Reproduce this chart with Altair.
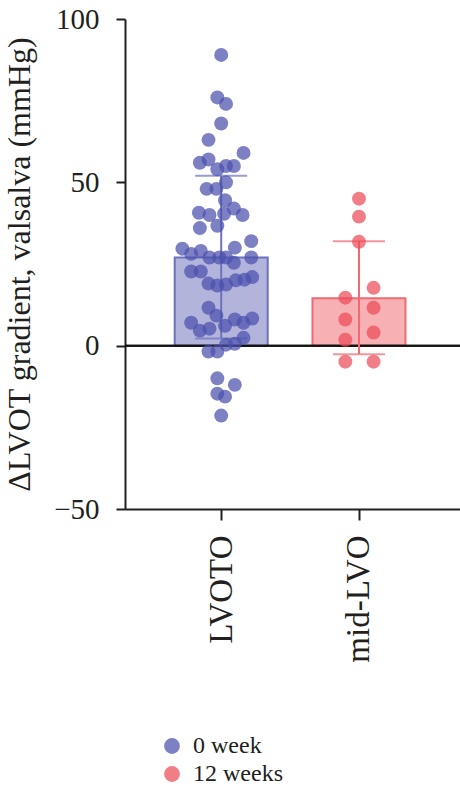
import altair as alt
import pandas as pd

# ---- data ----
categories = ["LVOTO", "mid-LVO"]
legend_labels = ["0 week", "12 weeks"]

lvoto_values = [89, 76, 74, 68, 63, 59, 56, 57, 54, 55, 55, 48, 48, 50, 44.5,
                40.7, 40, 40.4, 42, 40, 36, 36.7, 29.7, 28.1, 29, 27, 27, 27,
                30, 25.4, 32, 27, 22.7, 22.7, 19, 18.4, 18.7, 20, 20.2, 21,
                11.6, 9.2, 7, 4.6, 5.2, 6.1, 8, 7, 8.3, 2.4, 0.6, 0.3, -1.8,
                -1.8, -10, -12, -14.7, -15.6, -21.4]
lvoto_spread = [0, -0.028, 0.035, 0, -0.092, 0.162, -0.155, -0.092, -0.028,
                0.035, 0.092, -0.106, -0.035, 0.035, 0.028, -0.162, -0.085,
                0.021, 0.092, 0.155, -0.155, -0.028, -0.282, -0.218, -0.148,
                -0.085, -0.014, 0.035, 0.099, 0.092, 0.218, 0.218, -0.218,
                -0.148, -0.092, -0.028, 0.035, 0.106, 0.169, 0.225, -0.092,
                -0.035, -0.218, -0.155, -0.085, 0.028, 0.099, 0.162, 0.225,
                0.162, 0.099, 0.035, -0.092, -0.028, -0.028, 0.099, -0.028,
                0.028, 0]

mid_values = [45, 39.5, 31.8, 17.7, 14.7, 11.6, 8, 4, 1.8, -4.9, -4.9]
mid_spread = [0, 0, 0, 0.106, -0.099, 0.106, -0.099, 0.106, -0.099, -0.099, 0.106]

bar_means = [27, 14.5]
err_upper = [52, 32]
err_lower = [2.2, -2.6]

# ---- tables ----
cat_pos = {c: i + 1 for i, c in enumerate(categories)}

points = pd.DataFrame({
    "group": [legend_labels[0]] * len(lvoto_values) + [legend_labels[1]] * len(mid_values),
    "value": lvoto_values + mid_values,
    "xpos": [cat_pos[categories[0]] + s for s in lvoto_spread]
            + [cat_pos[categories[1]] + s for s in mid_spread],
})

summary = pd.DataFrame({
    "category": categories,
    "xpos": [cat_pos[c] for c in categories],
    "mean": bar_means,
    "upper": err_upper,
    "lower": err_lower,
    "zero": [0, 0],
})

FONT = "Liberation Serif"
TXT = "#231f20"
blue_fill, blue_line, blue_dot = "#b3b4dc", "#6d71be", "#4b50ad"
red_fill, red_line, red_dot = "#f7b0b4", "#f06a74", "#ec4c57"

xscale = alt.Scale(domain=[0.338, 2.697], nice=False, zero=False)
yscale = alt.Scale(domain=[-50, 100], nice=False)

label_expr = "datum.value == 1 ? '%s' : (datum.value == 2 ? '%s' : '')" % (categories[0], categories[1])

xaxis = alt.Axis(values=[1, 2], labelExpr=label_expr, title=None, labelAngle=-90,
                 labelFontSize=33, labelFont=FONT, labelColor=TXT, tickSize=11,
                 tickWidth=2, tickColor=TXT, domainColor=TXT, domainWidth=2,
                 labelPadding=15, grid=False)
yaxis = alt.Axis(values=[-50, 0, 50, 100], title="ΔLVOT gradient, valsalva (mmHg)",
                 titleFontSize=32, titleFont=FONT, titleFontWeight="normal", titleColor=TXT,
                 labelFontSize=29, labelFont=FONT, labelColor=TXT, tickSize=9,
                 tickWidth=2, tickColor=TXT, domainColor=TXT, domainWidth=2,
                 labelPadding=17, titlePadding=17, grid=False)

fill_scale = alt.Scale(domain=categories, range=[blue_fill, red_fill])
line_scale = alt.Scale(domain=categories, range=[blue_line, red_line])

bars = alt.Chart(summary).mark_bar(size=93, strokeWidth=2).encode(
    x=alt.X("xpos:Q", scale=xscale, axis=xaxis),
    y=alt.Y("mean:Q", scale=yscale, axis=yaxis),
    y2="zero:Q",
    fill=alt.Fill("category:N", scale=fill_scale, legend=None),
    stroke=alt.Stroke("category:N", scale=line_scale, legend=None),
)

zero_line = alt.Chart(summary).mark_rule(color="#111111", strokeWidth=2).encode(
    y=alt.Y("zero:Q", scale=yscale, axis=yaxis),
    x=alt.value(0),
    x2=alt.value(335),
)

err_rule = alt.Chart(summary).mark_rule(strokeWidth=2).encode(
    x=alt.X("xpos:Q", scale=xscale, axis=xaxis),
    y=alt.Y("lower:Q", scale=yscale, axis=yaxis),
    y2="upper:Q",
    stroke=alt.Stroke("category:N", scale=line_scale, legend=None),
)
cap_up = alt.Chart(summary).mark_tick(orient="horizontal", size=52, thickness=2).encode(
    x=alt.X("xpos:Q", scale=xscale, axis=xaxis),
    y=alt.Y("upper:Q", scale=yscale, axis=yaxis),
    color=alt.Color("category:N", scale=line_scale, legend=None),
)
cap_lo = alt.Chart(summary).mark_tick(orient="horizontal", size=52, thickness=2).encode(
    x=alt.X("xpos:Q", scale=xscale, axis=xaxis),
    y=alt.Y("lower:Q", scale=yscale, axis=yaxis),
    color=alt.Color("category:N", scale=line_scale, legend=None),
)

dots = alt.Chart(points).mark_circle(size=195, opacity=0.72).encode(
    x=alt.X("xpos:Q", scale=xscale, axis=xaxis),
    y=alt.Y("value:Q", scale=yscale, axis=yaxis),
    color=alt.Color("group:N",
                    scale=alt.Scale(domain=legend_labels, range=[blue_dot, red_dot]),
                    legend=alt.Legend(orient="none", legendX=35, legendY=715, title=None,
                                      labelFont=FONT, labelFontSize=24, labelColor=TXT,
                                      symbolType="circle", symbolSize=250, symbolOpacity=0.72,
                                      symbolStrokeWidth=0, labelOffset=9, rowPadding=4,
                                      padding=0)),
)

chart = alt.layer(bars, zero_line, err_rule, cap_up, cap_lo, dots).resolve_scale(
    color="independent", fill="independent", stroke="independent"
).properties(
    width=335, height=490,
    background="white",
    autosize=alt.AutoSizeParams(type="none"),
    padding={"left": 125, "top": 19, "right": 0, "bottom": 284},
).configure_view(strokeWidth=0, stroke="transparent").configure_axis(grid=False)

chart.save("out.html", embed_options={"renderer": "svg", "actions": False})
